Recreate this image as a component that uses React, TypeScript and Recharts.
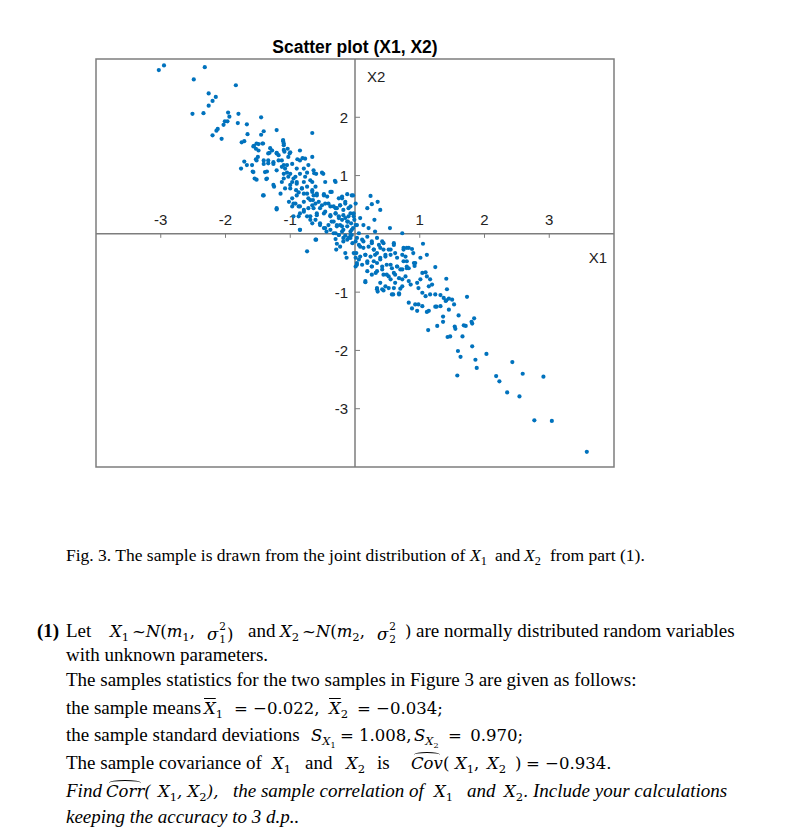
import React from 'react'
import { ScatterChart, Scatter, XAxis, YAxis, ReferenceLine, ReferenceArea, ReferenceDot } from 'recharts'

// ── axes ──────────────────────────────────────────────────
const X_DOMAIN: [number, number] = [-4, 4]
const Y_DOMAIN: [number, number] = [-4, 3]
const X_TICKS = [-3, -2, -1, 1, 2, 3]
const Y_TICKS = [2, 1, -1, -2, -3]

// ── sample (X1, X2) ──────────────────────────────────────
const upperArm: [number, number][] = [
  [-3.03, 2.81], [-2.95, 2.89], [-2.32, 2.86], [-2.49, 2.65], [-1.84, 2.55], [-2.26, 2.41], [-2.15, 2.35], [-2.20, 2.28],
  [-2.26, 2.20], [-2.51, 2.06], [-2.34, 2.07], [-1.96, 2.08], [-1.94, 2.01], [-1.80, 2.06], [-1.45, 2.00], [-2.01, 1.93],
  [-1.97, 1.93], [-2.03, 1.87], [-1.81, 1.90], [-1.67, 1.88], [-2.12, 1.80], [-2.14, 1.77], [-2.20, 1.69], [-2.06, 1.63],
  [-1.66, 1.71], [-1.41, 1.76], [-1.45, 1.70], [-1.21, 1.78], [-0.66, 1.73], [-1.75, 1.57], [-1.71, 1.59], [-1.56, 1.51],
  [-1.49, 1.54], [-1.43, 1.55], [-1.11, 1.59], [-1.10, 1.52], [-1.04, 1.46], [-1.09, 1.41], [-1.31, 1.47], [-1.32, 1.39],
  [-1.53, 1.46], [-1.50, 1.32], [-1.53, 1.28], [-1.41, 1.26], [-1.21, 1.39], [-1.18, 1.35], [-1.26, 1.23], [-1.34, 1.21],
  [-1.13, 1.26], [-1.03, 1.32], [-1.01, 1.38], [-0.89, 1.28], [-0.81, 1.30], [-1.71, 1.24], [-1.67, 1.18], [-1.76, 1.12],
  [-1.58, 1.07], [-1.41, 1.20], [-1.36, 1.07], [-1.55, 0.95], [-1.52, 0.93], [-1.37, 0.94], [-1.10, 1.18], [-1.08, 1.12],
  [-1.05, 1.05], [-1.00, 1.03], [-0.92, 0.98], [-0.74, 1.05], [-0.63, 1.04], [-0.51, 1.05], [-0.46, 0.89], [-0.30, 0.89],
  [-0.97, 0.89], [-0.90, 0.89], [-0.79, 0.89], [-1.10, 0.95], [-1.25, 0.81], [-1.00, 0.78], [-0.91, 0.75], [-0.82, 0.78],
  [-0.87, 0.71], [-0.74, 0.69], [-0.66, 0.72], [-0.59, 0.66], [-0.48, 0.68], [-0.38, 0.72], [-0.25, 0.61], [-0.20, 0.64],
  [-0.12, 0.68], [-0.05, 0.66], [-1.42, 0.66], [-1.21, 0.44], [-1.02, 0.55], [-0.97, 0.47], [-0.92, 0.52], [-0.85, 0.47],
  [-0.79, 0.55], [-0.69, 0.58], [-0.61, 0.52], [-0.54, 0.44], [-0.46, 0.52], [-0.38, 0.47], [-0.30, 0.44], [-0.23, 0.49],
  [-0.15, 0.55], [-0.07, 0.47], [0.01, 0.52], [-0.87, 0.30], [-0.79, 0.38], [-0.69, 0.30], [-0.59, 0.32], [-0.48, 0.35],
  [-0.38, 0.30], [-0.30, 0.35], [-0.25, 0.27], [-0.18, 0.32], [-0.10, 0.30], [-0.02, 0.35], [-0.85, 0.07], [-0.66, 0.18],
  [-0.54, 0.15], [-0.46, 0.10], [-0.36, 0.21], [-0.28, 0.15], [-0.20, 0.13], [-0.12, 0.21], [-0.05, 0.07], [0.01, 0.15],
  [-0.61, -0.10], [-0.33, 0.01], [-0.25, -0.02], [-0.18, -0.07], [-0.07, -0.02], [0.01, -0.13],
]

const upperCore: [number, number][] = [
  [-1.11, 1.61], [-1.10, 1.55], [-1.52, 1.55], [-1.57, 1.50], [-1.42, 1.55], [-1.49, 1.43], [-1.34, 1.38], [-1.28, 1.43],
  [-1.21, 1.38], [-1.10, 1.44], [-1.00, 1.40], [-0.85, 1.43], [-0.77, 1.29], [-0.85, 1.26], [-0.66, 1.32], [-1.59, 1.18],
  [-1.52, 1.26], [-1.34, 1.26], [-1.26, 1.20], [-1.18, 1.26], [-1.13, 1.15], [-1.05, 1.18], [-0.97, 1.20], [-0.90, 1.12],
  [-0.79, 1.12], [-0.72, 1.18], [-0.64, 1.09], [-1.57, 1.06], [-1.39, 1.06], [-1.21, 1.09], [-1.10, 1.03], [-1.03, 0.98],
  [-0.95, 0.95], [-0.85, 1.03], [-0.77, 0.98], [-0.69, 0.92], [-1.36, 0.95], [-1.26, 0.84], [-1.13, 0.89], [-1.08, 0.78],
  [-1.00, 0.84], [-0.90, 0.86], [-0.82, 0.78], [-0.74, 0.81], [-0.66, 0.75], [-1.41, 0.66], [-1.15, 0.69], [-0.97, 0.61],
  [-0.90, 0.66], [-0.79, 0.69], [-0.72, 0.61], [-0.64, 0.66], [-0.95, 0.52], [-0.87, 0.47], [-0.79, 0.41], [-0.72, 0.44],
  [-0.66, 0.49], [-1.21, 0.42], [-0.85, 0.35], [-0.74, 0.30], [-0.95, 0.30], [-0.69, 0.24], [-0.85, 0.07],
]

const coreLeft: [number, number][] = [
  [-0.60, 1.03], [-0.49, 1.03], [-0.31, 0.91], [-0.66, 0.89], [-0.61, 0.81], [-0.59, 0.69], [-0.48, 0.66], [-0.43, 0.64],
  [-0.36, 0.72], [-0.20, 0.61], [-0.15, 0.52], [-0.03, 0.66], [-0.65, 0.58], [-0.56, 0.55], [-0.51, 0.49], [-0.41, 0.52],
  [-0.33, 0.47], [-0.28, 0.44], [-0.23, 0.49], [-0.18, 0.41], [-0.10, 0.44], [-0.07, 0.35], [-0.02, 0.30], [-0.64, 0.44],
  [-0.59, 0.35], [-0.46, 0.38], [-0.38, 0.32], [-0.30, 0.35], [-0.25, 0.30], [-0.20, 0.24], [-0.15, 0.27], [-0.11, 0.21],
  [-0.06, 0.18], [-0.01, 0.24], [-0.61, 0.24], [-0.54, 0.18], [-0.48, 0.10], [-0.41, 0.15], [-0.33, 0.21], [-0.28, 0.13],
  [-0.23, 0.15], [-0.18, 0.07], [-0.12, 0.13], [-0.07, 0.04], [-0.03, 0.10], [-0.44, 0.04], [-0.38, 0.07], [-0.30, 0.01],
  [-0.25, -0.02], [-0.20, 0.04], [-0.15, -0.03], [-0.10, -0.07], [-0.05, -0.02], [-0.30, -0.09], [-0.28, -0.17], [-0.29, -0.27],
  [-0.23, -0.22], [-0.18, -0.13], [-0.12, -0.10], [-0.15, -0.33], [-0.13, -0.41], [-0.02, -0.33], [0.02, -0.33], [0.01, -0.41],
  [0.03, -0.53], [-0.07, -0.07], [-0.04, -0.16], [-0.74, -0.30], [-0.60, -0.10],
]

const coreRight: [number, number][] = [
  [0.24, 0.65], [0.26, 0.51], [0.35, 0.55], [0.39, 0.41], [0.19, 0.44], [0.30, 0.24], [0.08, 0.27], [0.13, 0.15],
  [0.03, 0.15], [0.21, 0.10], [0.54, 0.10], [0.73, 0.01], [0.06, 0.01], [0.31, 0.04],
  [0.03, -0.07], [0.11, -0.10], [0.19, -0.05], [0.26, -0.13], [0.34, -0.07], [0.42, -0.13], [0.60, -0.16], [0.75, -0.24],
  [0.80, -0.24], [0.06, -0.19], [0.13, -0.24], [0.21, -0.22], [0.29, -0.27], [0.37, -0.19], [0.44, -0.27], [0.52, -0.27],
  [0.08, -0.39], [0.16, -0.36], [0.24, -0.39], [0.31, -0.36], [0.39, -0.41], [0.47, -0.39], [0.55, -0.36], [0.65, -0.41],
  [0.73, -0.36], [0.80, -0.47], [0.03, -0.50], [0.11, -0.53], [0.19, -0.47], [0.26, -0.56], [0.34, -0.50], [0.42, -0.56],
  [0.49, -0.53], [0.57, -0.59], [0.65, -0.56], [0.73, -0.61], [0.80, -0.59], [0.19, -0.64], [0.26, -0.70], [0.34, -0.64],
  [0.44, -0.70], [0.52, -0.73], [0.60, -0.67], [0.68, -0.76], [0.78, -0.73], [0.16, -0.81], [0.34, -0.93], [0.42, -0.95],
  [0.52, -0.93], [0.62, -0.84], [0.73, -0.90], [0.68, -1.04], [0.57, -1.04], [0.83, -0.81],
]

const midRight: [number, number][] = [
  [0.88, -0.26], [0.83, -0.24], [0.90, -0.33], [0.75, -0.47], [0.80, -0.56], [0.93, -0.50], [1.04, -0.67], [1.09, -0.66],
  [1.11, -0.73], [1.16, -0.78], [1.14, -0.90], [0.96, -0.84], [0.98, -0.93], [0.86, -0.87], [1.04, -1.01], [1.09, -1.07],
  [1.16, -1.04], [1.24, -1.04], [1.32, -1.05], [1.37, -1.10], [1.41, -1.14], [1.50, -1.13], [1.53, -1.21], [1.45, -1.30],
  [1.32, -1.24], [1.24, -1.25], [1.14, -1.32], [1.04, -1.24], [0.93, -1.21], [0.83, -1.18], [0.88, -1.28], [0.96, -1.32],
  [0.83, -0.59], [0.70, -0.61], [0.62, -0.70], [0.73, -0.78], [0.55, -0.78], [0.49, -0.70], [0.42, -0.61], [0.26, -0.56],
  [0.19, -0.50], [0.29, -0.47], [0.39, -0.44], [0.55, -0.53], [0.65, -0.56], [0.78, -0.39], [1.01, -0.41], [1.11, -0.36],
  [0.47, -0.36], [0.34, -0.33], [0.62, -0.33], [0.75, -0.27], [0.55, -0.27], [0.39, -0.24], [0.29, -0.27], [0.60, -0.19],
  [0.44, -0.16], [0.26, -0.16], [0.13, -0.13], [0.08, -0.22], [0.16, -0.36], [0.06, -0.44], [0.01, -0.56], [0.32, -0.67],
  [0.39, -0.84], [0.47, -0.90], [0.60, -0.93], [0.70, -0.94], [0.16, -0.83], [0.34, -0.95], [0.35, -0.99], [0.44, -0.97],
  [0.59, -1.04], [0.68, -1.02], [1.05, -0.17], [1.24, -0.57], [1.41, -0.77], [1.42, -0.95], [1.73, -1.08], [1.40, -1.15],
  [1.45, -1.11], [1.60, -1.40], [1.36, -1.42], [1.26, -1.25], [1.11, -1.34], [0.98, -1.21], [1.19, -0.87], [1.01, -0.78],
  [0.91, -0.50], [0.92, -0.55],
]

const lowerArm: [number, number][] = [
  [1.13, -1.65], [1.27, -1.58], [1.36, -1.51], [1.43, -1.77], [1.47, -1.76], [1.54, -1.59], [1.55, -1.63], [1.66, -1.76],
  [1.68, -1.57], [1.71, -1.58], [1.81, -1.54], [1.84, -1.45], [1.80, -1.51], [1.59, -2.01], [1.63, -2.11], [1.58, -2.43],
  [1.81, -1.93], [1.86, -2.16], [1.88, -2.30], [2.03, -2.06], [2.18, -2.44], [2.23, -2.53], [2.35, -2.72], [2.43, -2.20],
  [2.54, -2.79], [2.59, -2.40], [2.91, -2.45], [2.77, -3.20], [3.04, -3.21], [3.58, -3.74],
]

const sample = [...upperArm, ...upperCore, ...coreLeft, ...coreRight, ...midRight, ...lowerArm].map(([x, y]) => ({ x, y }))

const AXIS = '#7d7d7d'
const DOT = '#0072BD'
const SANS = '"Liberation Sans", Arial, sans-serif'
const SERIF = '"Liberation Serif", "Times New Roman", serif'
const MATH = '"DejaVu Serif", "Liberation Serif", serif'

// ── small math helpers for the text below ────────────────
const I = ({ children }: any) => <span style={{ fontStyle: 'italic' }}>{children}</span>
const M = ({ children }: any) => <span style={{ fontFamily: MATH, fontSize: 16.5 }}>{children}</span>
const Sub = ({ children }: any) => (
  <sub style={{ fontSize: '0.7em', verticalAlign: '-0.32em', lineHeight: 0, fontStyle: 'normal' }}>{children}</sub>
)
// stacked sub/superscript, e.g. sigma_1^2
const Stack = ({ sub, sup }: any) => (
  <span style={{ display: 'inline-block', verticalAlign: '-0.35em', fontSize: '0.64em', lineHeight: 1.25, fontStyle: 'normal', margin: '0 1px' }}>
    <span style={{ display: 'block' }}>{sup}</span>
    <span style={{ display: 'block' }}>{sub}</span>
  </span>
)
const Over = ({ children }: any) => <span style={{ textDecoration: 'overline' }}>{children}</span>
const Hat = ({ children }: any) => (
  <span style={{ position: 'relative', display: 'inline-block' }}>
    <span style={{ position: 'absolute', left: '8%', right: '8%', top: -1, height: 5, borderTop: '1px solid #000', borderRadius: '50% 50% 0 0' }} />
    {children}
  </span>
)
const X = ({ n }: any) => <><I>X</I><Sub>{n}</Sub></>

const Row = ({ top, size = 19, italic = false, children }: any) => (
  <div style={{ position: 'absolute', top, left: 0, width: 799, height: 22, fontFamily: SERIF, fontSize: size, lineHeight: '22px', fontStyle: italic ? 'italic' : 'normal', color: '#000' }}>
    {children}
  </div>
)
const Seg = ({ x, children }: any) => (
  <span style={{ position: 'absolute', left: x, top: 0, whiteSpace: 'nowrap' }}>{children}</span>
)

export default function App() {
  return (
    <div style={{ position: 'absolute', left: 0, top: 0, width: 799, height: 833, background: '#fff', overflow: 'hidden' }}>
      <div style={{ position: 'absolute', left: 0, top: 38, width: 710, textAlign: 'center', fontFamily: SANS, fontWeight: 'bold', fontSize: 17.5, lineHeight: '18px', color: '#000' }}>
        Scatter plot (X1, X2)
      </div>
      <div style={{ position: 'absolute', left: 0, top: 0 }}>
        <ScatterChart width={799} height={480} margin={{ top: 59, right: 185, bottom: 13, left: 96 }}>
          <XAxis type="number" dataKey="x" domain={X_DOMAIN} hide allowDataOverflow />
          <YAxis type="number" dataKey="y" domain={Y_DOMAIN} hide allowDataOverflow />
          <ReferenceArea x1={X_DOMAIN[0]} x2={X_DOMAIN[1]} y1={Y_DOMAIN[0]} y2={Y_DOMAIN[1]} fill="#fff" fillOpacity={0} stroke={AXIS} strokeWidth={1.5} strokeOpacity={1} />
          <ReferenceLine x={0} stroke={AXIS} strokeWidth={1.5} />
          <ReferenceLine y={0} stroke={AXIS} strokeWidth={1.5} />
          {X_TICKS.map(t => (
            <ReferenceDot key={'xt' + t} x={t} y={0} r={0}
              shape={(p: any) => (
                <g>
                  <line x1={p.cx} y1={p.cy} x2={p.cx} y2={p.cy + 4} stroke={AXIS} strokeWidth={1} />
                  <text x={p.cx} y={p.cy - 9} textAnchor="middle" fontFamily={SANS} fontSize={15} fill="#222">{t}</text>
                </g>
              )} />
          ))}
          {Y_TICKS.map(t => (
            <ReferenceDot key={'yt' + t} x={0} y={t} r={0}
              shape={(p: any) => (
                <g>
                  <line x1={p.cx} y1={p.cy} x2={p.cx + 5} y2={p.cy} stroke={AXIS} strokeWidth={1} />
                  <text x={p.cx - 7} y={p.cy} dy="0.36em" textAnchor="end" fontFamily={SANS} fontSize={15} fill="#222">{t}</text>
                </g>
              )} />
          ))}
          <ReferenceDot x={0} y={Y_DOMAIN[1]} r={0}
            shape={(p: any) => <text x={p.cx + 12} y={p.cy + 23} fontFamily={SANS} fontSize={15} fill="#222">X2</text>} />
          <ReferenceDot x={X_DOMAIN[1]} y={0} r={0}
            shape={(p: any) => <text x={p.cx - 7} y={p.cy + 29} textAnchor="end" fontFamily={SANS} fontSize={15} fill="#222">X1</text>} />
          <Scatter data={sample} isAnimationActive={false}
            shape={(p: any) => <circle cx={p.cx} cy={p.cy} r={2.1} fill={DOT} />} />
        </ScatterChart>
      </div>

      <Row top={544} size={17.5}>
        <Seg x={66}>Fig. 3. The sample is drawn from the joint distribution of</Seg>
        <Seg x={470}><X n={1} /></Seg>
        <Seg x={495}>and</Seg>
        <Seg x={524}><X n={2} /></Seg>
        <Seg x={550}>from part (1).</Seg>
      </Row>

      <Row top={620}>
        <Seg x={37}><b>(1)</b></Seg>
        <Seg x={66}>Let</Seg>
        <Seg x={110}><M><X n={1} /></M></Seg>
        <Seg x={132}><M>~<I>N</I>(<I>m</I><Sub>1</Sub>,</M></Seg>
        <Seg x={207}><M><I>σ</I><Stack sub="1" sup="2" />)</M></Seg>
        <Seg x={248}>and</Seg>
        <Seg x={280}><M><X n={2} /></M></Seg>
        <Seg x={302}><M>~<I>N</I>(<I>m</I><Sub>2</Sub>,</M></Seg>
        <Seg x={377}><M><I>σ</I><Stack sub="2" sup="2" /></M></Seg>
        <Seg x={405}><M>)</M></Seg>
        <Seg x={416}>are normally distributed random variables</Seg>
      </Row>
      <Row top={644}><Seg x={66}>with unknown parameters.</Seg></Row>
      <Row top={669}><Seg x={66}>The samples statistics for the two samples in Figure 3 are given as follows:</Seg></Row>
      <Row top={697}>
        <Seg x={66}>the sample means</Seg>
        <Seg x={204}><M><Over><I>X</I></Over><Sub>1</Sub></M></Seg>
        <Seg x={234}><M>= −0.022,</M></Seg>
        <Seg x={329}><M><Over><I>X</I></Over><Sub>2</Sub></M></Seg>
        <Seg x={357}><M>= −0.034;</M></Seg>
      </Row>
      <Row top={724}>
        <Seg x={66}>the sample standard deviations</Seg>
        <Seg x={311}><M><I>S</I><Sub><I>X</I><Sub>1</Sub></Sub></M></Seg>
        <Seg x={340}><M>= 1.008,</M></Seg>
        <Seg x={414}><M><I>S</I><Sub><I>X</I><Sub>2</Sub></Sub></M></Seg>
        <Seg x={448}><M>= &thinsp;0.970;</M></Seg>
      </Row>
      <Row top={752}>
        <Seg x={66}>The sample covariance of</Seg>
        <Seg x={272}><M><X n={1} /></M></Seg>
        <Seg x={305}>and</Seg>
        <Seg x={346}><M><X n={2} /></M></Seg>
        <Seg x={377}>is</Seg>
        <Seg x={411}><M><Hat><I>Cov</I></Hat>(</M></Seg>
        <Seg x={455}><M><X n={1} />,</M></Seg>
        <Seg x={487}><M><X n={2} /></M></Seg>
        <Seg x={515}><M>)</M></Seg>
        <Seg x={526}><M>= −0.934.</M></Seg>
      </Row>
      <Row top={780} italic>
        <Seg x={66}>Find</Seg>
        <Seg x={106}><M><Hat>Corr</Hat>(</M></Seg>
        <Seg x={158}><M><X n={1} />, <X n={2} />),</M></Seg>
        <Seg x={233}>the sample correlation of</Seg>
        <Seg x={434}><M><X n={1} /></M></Seg>
        <Seg x={467}>and</Seg>
        <Seg x={504}><M><X n={2} />.</M></Seg>
        <Seg x={533}>Include your calculations</Seg>
      </Row>
      <Row top={806} italic><Seg x={66}>keeping the accuracy to 3 d.p..</Seg></Row>
    </div>
  )
}
